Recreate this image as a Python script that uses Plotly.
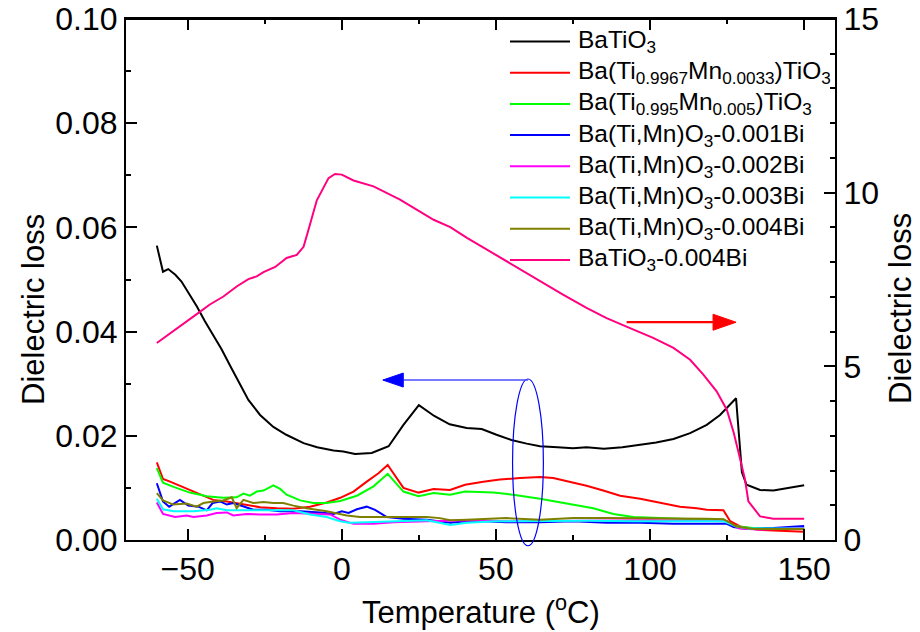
import plotly.graph_objects as go

# ---- measured data: dielectric loss vs temperature ----
names = [
    "BaTiO<sub>3</sub>",
    "Ba(Ti<sub>0.9967</sub>Mn<sub>0.0033</sub>)TiO<sub>3</sub>",
    "Ba(Ti<sub>0.995</sub>Mn<sub>0.005</sub>)TiO<sub>3</sub>",
    "Ba(Ti,Mn)O<sub>3</sub>-0.001Bi",
    "Ba(Ti,Mn)O<sub>3</sub>-0.002Bi",
    "Ba(Ti,Mn)O<sub>3</sub>-0.003Bi",
    "Ba(Ti,Mn)O<sub>3</sub>-0.004Bi",
    "BaTiO<sub>3</sub>-0.004Bi",
]
colors = ["#000000", "#FF0000", "#00FF00", "#0000FF", "#FF00FF", "#00FFFF", "#808000", "#FF0080"]

t_bt = [-60, -58, -56.3, -54, -52, -50, -47, -44.4, -41.7, -39, -36, -33, -30.3, -26.5, -22.2, -18,
        -12.4, -8, -2.7, 0.5, 4.3, 9.7, 15.2, 20, 25, 30, 35, 40.5, 45.4, 50.2, 55, 60, 64.3, 70, 75,
        79.4, 85, 91, 97, 102, 107.6, 113, 118.4, 122.7, 127.9, 129.8, 131.3, 135.7, 140, 145.5, 150]
loss_bt = [0.0565, 0.0515, 0.052, 0.0509, 0.0496, 0.0477, 0.0448, 0.0420, 0.0392, 0.0366, 0.0332,
           0.0298, 0.0269, 0.0240, 0.0217, 0.0202, 0.0186, 0.0178, 0.0172, 0.0170, 0.0165, 0.0167,
           0.0180, 0.0221, 0.0259, 0.0238, 0.0222, 0.0215, 0.0213, 0.0202, 0.0192, 0.0185, 0.0180,
           0.0178, 0.0176, 0.0178, 0.0175, 0.0178, 0.0183, 0.0187, 0.0194, 0.0205, 0.0221, 0.0240,
           0.0272, 0.0130, 0.0106, 0.0096, 0.0095, 0.0100, 0.0105]

t_mn33 = [-60, -58, -55.7, -52.5, -49.3, -44.9, -41.7, -37.3, -31.9, -26.5, -21.1, -15.7, -10.3, -4.9,
          -0.5, 3.8, 8.1, 11.9, 14.9, 20, 24.9, 29.8, 35.1, 40, 45.9, 51.3, 57.8, 64.3, 68.6, 74, 79.4,
          84.8, 90.3, 96.8, 103.2, 109.7, 115.2, 118.4, 123.8, 126, 129.2, 134.5, 140, 150]
loss_mn33 = [0.0149, 0.0117, 0.0112, 0.0104, 0.0096, 0.0084, 0.0077, 0.0074, 0.0068, 0.0063, 0.0061,
             0.0060, 0.0064, 0.0072, 0.0081, 0.0093, 0.0112, 0.0128, 0.0144, 0.0100, 0.0091, 0.0098,
             0.0096, 0.0106, 0.0112, 0.0116, 0.0119, 0.0121, 0.0119, 0.0112, 0.0104, 0.0095, 0.0085,
             0.0079, 0.0072, 0.0064, 0.0061, 0.0058, 0.0057, 0.0036, 0.0026, 0.0020, 0.0018, 0.0016]

t_mn50 = [-60, -58, -54.6, -49.3, -43.8, -38.5, -34.1, -31.9, -29.8, -27.6, -25.4, -22.2, -20, -17.9,
          -13.5, -9.2, -4.9, -0.5, 4.9, 10.3, 14.9, 20, 24.9, 29.8, 35.1, 40, 49.1, 55.6, 64.3, 73,
          81.6, 88.1, 94.6, 103.2, 114, 123.8, 127.1, 133.4, 150]
loss_mn50 = [0.0138, 0.0110, 0.0102, 0.0091, 0.0084, 0.0081, 0.0082, 0.0089, 0.0085, 0.0093, 0.0095,
             0.0105, 0.0098, 0.0087, 0.0076, 0.0071, 0.0071, 0.0075, 0.0085, 0.0103, 0.0127, 0.0093,
             0.0084, 0.0090, 0.0087, 0.0093, 0.0091, 0.0087, 0.0079, 0.0070, 0.0061, 0.0050, 0.0044,
             0.0042, 0.0040, 0.0040, 0.0027, 0.0023, 0.0021]

t_bi1 = [-60, -58, -56, -52.5, -49.8, -46.5, -43.8, -41.9, -39.5, -37.3, -35.2, -31.9, -28.7, -24.4,
         -20, -13.5, -7, -2.7, 0, 2.2, 4.9, 8.1, 10.8, 14.6, 20, 27.6, 35.2, 42.6, 53.5, 64.3, 75.1,
         85.9, 96.8, 107.6, 118.4, 124.9, 127.1, 131.4, 140, 150]
loss_bi1 = [0.0109, 0.0074, 0.0064, 0.0077, 0.0066, 0.0064, 0.0057, 0.0071, 0.0074, 0.0068, 0.0071,
            0.0064, 0.0058, 0.0058, 0.0055, 0.0055, 0.0053, 0.0050, 0.0055, 0.0052, 0.0059, 0.0064,
            0.0058, 0.0044, 0.0041, 0.0039, 0.0033, 0.0037, 0.0034, 0.0034, 0.0036, 0.0033, 0.0033,
            0.0031, 0.0031, 0.0031, 0.0025, 0.0021, 0.0023, 0.0027]

t_bi2 = [-60, -58, -54.1, -50.3, -48.1, -43.8, -40.6, -37.3, -35.2, -30.9, -26.5, -21.1, -15.7, -9.2,
         -3.8, -0.5, 3.8, 10.3, 16.8, 27.6, 40.6, 55, 70, 85, 100, 115, 125, 129, 135, 150]
loss_bi2 = [0.0072, 0.0050, 0.0044, 0.0047, 0.0044, 0.0047, 0.0052, 0.0053, 0.0047, 0.0050, 0.0049,
            0.0049, 0.0052, 0.0050, 0.0049, 0.0039, 0.0031, 0.0031, 0.0034, 0.0036, 0.0038, 0.0036,
            0.0037, 0.0038, 0.0038, 0.0037, 0.0036, 0.0022, 0.0020, 0.0023]

t_bi3 = [-60, -58, -54.6, -48.1, -42.7, -40.6, -37.3, -33, -26.5, -21.1, -15.7, -10.3, -4.9, -0.5,
         2.2, 8.1, 16.8, 27.6, 35.2, 40.6, 50, 65, 80, 95, 110, 124, 128, 132, 140, 150]
loss_bi3 = [0.0079, 0.0059, 0.0055, 0.0055, 0.0058, 0.0061, 0.0057, 0.0057, 0.0058, 0.0058, 0.0057,
            0.0049, 0.0044, 0.0036, 0.0033, 0.0034, 0.0036, 0.0038, 0.0029, 0.0033, 0.0036, 0.0037,
            0.0037, 0.0036, 0.0036, 0.0036, 0.0026, 0.0022, 0.0022, 0.0022]

t_bi4 = [-60, -58, -54.6, -50.3, -47.1, -44.9, -41.7, -38.5, -35.7, -34.1, -31.9, -28.7, -25.4, -22.2,
         -19, -15.7, -11.4, -4.9, 1.6, 5.9, 14.6, 27.6, 31.8, 35.2, 40.6, 53.5, 64.3, 75.1, 85.9, 96.8,
         107.6, 118.4, 123.8, 128.1, 133.4, 150]
loss_bi4 = [0.0090, 0.0076, 0.0068, 0.0070, 0.0064, 0.0071, 0.0074, 0.0076, 0.0082, 0.0061, 0.0077,
            0.0071, 0.0073, 0.0071, 0.0071, 0.0066, 0.0061, 0.0055, 0.0047, 0.0044, 0.0044, 0.0044,
            0.0042, 0.0038, 0.0039, 0.0042, 0.0039, 0.0042, 0.0042, 0.0042, 0.0041, 0.0041, 0.0040,
            0.0026, 0.0021, 0.0021]

# BaTiO3-0.004Bi is plotted against the right-hand axis
t_btbi = [-60, -54.6, -50.3, -46.5, -42.8, -38.4, -34.1, -30.3, -27.6, -25.4, -21.6, -17.9, -14.6,
          -12.4, -10.8, -8.1, -4.3, -2.2, 0, 3.8, 10.3, 18.9, 29.8, 35.2, 40.6, 47, 54.5, 63.2, 71.9,
          79.4, 85.9, 93.5, 101, 107.6, 113, 117.3, 121.6, 124.9, 127.1, 128.5, 130.8, 131.9, 135.7,
          140, 150]
loss_btbi = [5.67, 6.01, 6.29, 6.54, 6.78, 7.01, 7.30, 7.51, 7.59, 7.71, 7.86, 8.12, 8.21, 8.44, 8.93,
             9.78, 10.42, 10.54, 10.52, 10.35, 10.18, 9.80, 9.22, 9.01, 8.70, 8.36, 7.98, 7.50, 7.06,
             6.68, 6.39, 6.10, 5.82, 5.53, 5.19, 4.76, 4.28, 3.75, 3.10, 2.60, 1.74, 1.11, 0.68, 0.61,
             0.61]

series_t = [t_bt, t_mn33, t_mn50, t_bi1, t_bi2, t_bi3, t_bi4, t_btbi]
series_v = [loss_bt, loss_mn33, loss_mn50, loss_bi1, loss_bi2, loss_bi3, loss_bi4, loss_btbi]
series_axis = ["y", "y", "y", "y", "y", "y", "y", "y2"]

x_range = [-70, 160]
y_range = [0, 0.10]
y2_range = [0, 15]
x_ticks = [-50, 0, 50, 100, 150]
y_ticks = [0, 0.02, 0.04, 0.06, 0.08, 0.10]
y2_ticks = [0, 5, 10, 15]

FONT = "Liberation Sans, Arial, sans-serif"
TICK_SIZE = 32
TITLE_SIZE = 31
LEGEND_SIZE = 24.5

W, H = 920, 632
ML, MR, MT, MB = 126, 85, 19, 92
plot_w = W - ML - MR
plot_h = H - MT - MB
px_per_x = plot_w / (x_range[1] - x_range[0])
px_per_y = plot_h / (y_range[1] - y_range[0])
px_per_y2 = plot_h / (y2_range[1] - y2_range[0])


def paper_x(px):
    return (px - ML) / plot_w


def paper_y(py):
    return (H - MB - py) / plot_h


def data_to_paper_x(t):
    return (t - x_range[0]) / (x_range[1] - x_range[0])


def data_to_paper_y(v):
    return (v - y_range[0]) / (y_range[1] - y_range[0])


fig = go.Figure()
for name, t, v, ax, c in zip(names, series_t, series_v, series_axis, colors):
    fig.add_trace(go.Scatter(x=t, y=v, yaxis=ax, mode="lines", name=name,
                             line=dict(color=c, width=2), showlegend=False))
# empty trace that carries the top (tick-only) temperature axis
fig.add_trace(go.Scatter(x=[None], y=[None], xaxis="x2", mode="lines",
                         showlegend=False, hoverinfo="skip"))

# ---- hand-built legend (long line samples, tight row spacing) ----
leg_x0, leg_x1, leg_tx = 510, 570, 576
leg_y_first, leg_dy = 41.5, 31.2
shapes = []
annotations = []
for i, (name, c) in enumerate(zip(names, colors)):
    yp = paper_y(leg_y_first + i * leg_dy)
    shapes.append(dict(type="line", xref="paper", yref="paper",
                       x0=paper_x(leg_x0), x1=paper_x(leg_x1), y0=yp, y1=yp,
                       line=dict(color=c, width=2)))
    annotations.append(dict(xref="paper", yref="paper", x=paper_x(leg_tx), y=yp,
                            xanchor="left", yanchor="middle", text=name, showarrow=False,
                            font=dict(family=FONT, size=LEGEND_SIZE, color="black")))

# frame line along the top of the plotting area
shapes.append(dict(type="line", xref="paper", yref="paper", x0=0, x1=1, y0=1, y1=1,
                   line=dict(color="black", width=2), layer="above"))

# ---- axis titles ----
title_font = dict(family=FONT, size=TITLE_SIZE, color="black")
annotations.append(dict(xref="paper", yref="paper", x=paper_x(481), y=paper_y(610),
                        xanchor="center", yanchor="middle", showarrow=False,
                        text="Temperature (<sup>o</sup>C)", font=title_font))
annotations.append(dict(xref="paper", yref="paper", x=paper_x(33), y=paper_y(310),
                        xanchor="center", yanchor="middle", showarrow=False, textangle=-90,
                        text="Dielectric loss", font=title_font))
annotations.append(dict(xref="paper", yref="paper", x=paper_x(900), y=paper_y(309),
                        xanchor="center", yanchor="middle", showarrow=False, textangle=-90,
                        text="Dielectric loss", font=title_font))

# ---- ellipse marking the low-loss group (allowed to run past the bottom axis) ----
ell_t = [55.4, 65.4]
ell_v = [-0.0011, 0.0309]
shapes.append(dict(type="circle", xref="paper", yref="paper",
                   x0=data_to_paper_x(ell_t[0]), x1=data_to_paper_x(ell_t[1]),
                   y0=data_to_paper_y(ell_v[0]), y1=data_to_paper_y(ell_v[1]),
                   line=dict(color="#0000FF", width=1.2)))


def arrow(x_from, x_to, yv, yref, color, width, head_len_px, head_half_px, line_color):
    per_y = px_per_y if yref == "y" else px_per_y2
    direction = 1 if x_to > x_from else -1
    base = x_to - direction * head_len_px / px_per_x
    half = head_half_px / per_y
    shapes.append(dict(type="line", xref="x", yref=yref, x0=x_from, x1=base, y0=yv, y1=yv,
                       line=dict(color=line_color, width=width)))
    shapes.append(dict(type="path", xref="x", yref=yref,
                       path=f"M{x_to},{yv} L{base},{yv + half} L{base},{yv - half} Z",
                       fillcolor=color, line=dict(color=color, width=1)))


arrow(60.4, 13.3, 0.0307, "y", "#0000FF", 1.6, 20.5, 7, "#4D4DFF")
arrow(92.4, 127.9, 6.27, "y2", "#FF0000", 2.2, 23, 8, "#FF0000")

axis_common = dict(showline=True, linecolor="black", linewidth=2, ticks="inside",
                   tickcolor="black", tickwidth=1.5, ticklen=11, showgrid=False, zeroline=False,
                   automargin=False, ticklabeloverflow="allow",
                   tickfont=dict(family=FONT, size=TICK_SIZE, color="black"))

fig.update_layout(
    width=W, height=H,
    margin=dict(l=ML, r=MR, t=MT, b=MB),
    paper_bgcolor="white", plot_bgcolor="white",
    shapes=shapes, annotations=annotations,
    xaxis=dict(range=x_range, tickvals=x_ticks,
               minor=dict(ticks="inside", dtick=25, tick0=0, ticklen=5, tickwidth=1.5,
                          tickcolor="black", showgrid=False),
               **axis_common),
    xaxis2=dict(range=x_range, tickvals=x_ticks, overlaying="x", side="top", anchor="y",
                showticklabels=False,
                minor=dict(ticks="inside", dtick=25, tick0=0, ticklen=5, tickwidth=1.5,
                           tickcolor="black", showgrid=False),
                **axis_common),
    yaxis=dict(range=y_range, tickvals=y_ticks, tickformat=".2f",
               minor=dict(ticks="inside", dtick=0.01, ticklen=5, tickwidth=1.5,
                          tickcolor="black", showgrid=False),
               **axis_common),
    yaxis2=dict(range=y2_range, tickvals=y2_ticks, overlaying="y", side="right",
                minor=dict(ticks="inside", dtick=1, ticklen=5, tickwidth=1.5,
                           tickcolor="black", showgrid=False),
                **axis_common),
)

fig.write_html("out.html")
